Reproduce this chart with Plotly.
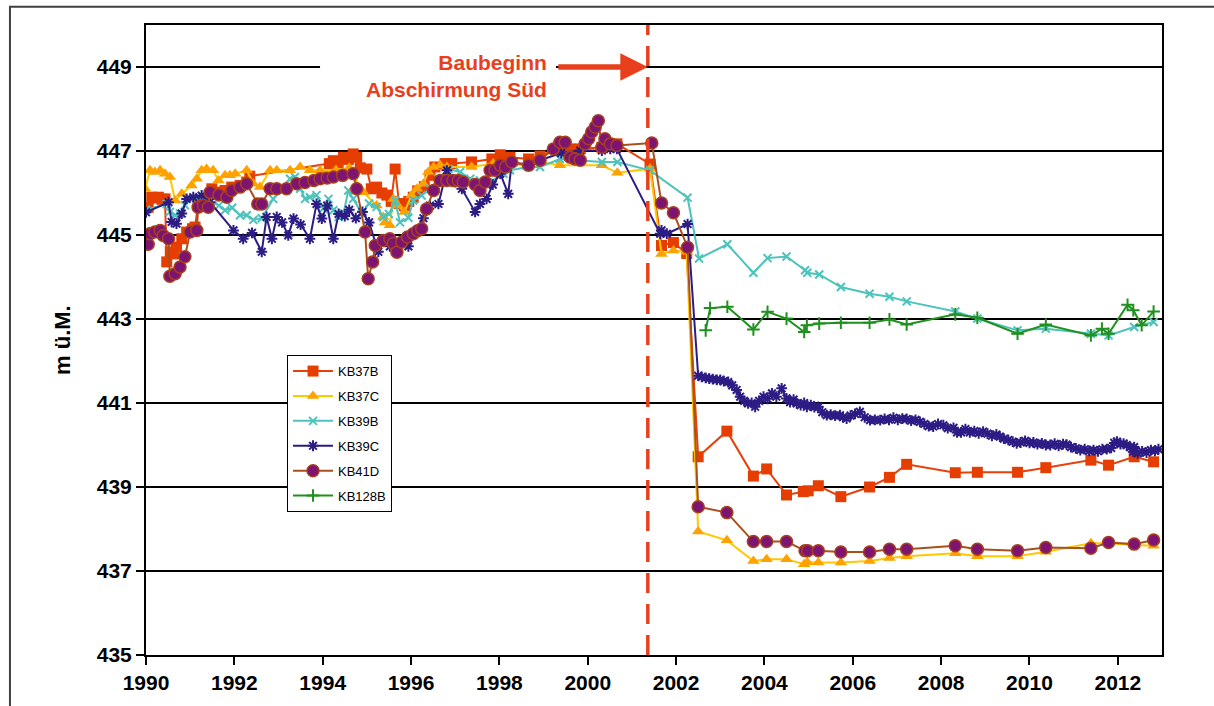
import plotly.graph_objects as go

# --- Messreihen Grundwasserstand (Jahr, m ü.M.) ---
kb37b_x = [1990.05, 1990.13, 1990.20, 1990.28, 1990.36, 1990.43, 1990.47, 1990.55, 1990.62, 1990.69,
           1990.81, 1990.92, 1991.05, 1991.11, 1991.18, 1991.28, 1991.37, 1991.49, 1991.64, 1991.79,
           1991.94, 1992.13, 1992.28, 1992.35, 1994.15, 1994.24, 1994.35, 1994.47, 1994.58, 1994.69,
           1994.77, 1994.85, 1995.00, 1995.10, 1995.22, 1995.34, 1995.45, 1995.55, 1995.64, 1995.73,
           1995.85, 1995.95, 1996.05, 1996.15, 1996.30, 1996.43, 1996.54, 1996.77, 1996.92, 1997.37,
           1997.83, 1998.02, 1998.24, 1998.66, 1998.92, 1999.37, 1999.60, 1999.83, 2000.32, 2000.51,
           2000.66, 2001.41, 2001.67, 2001.94, 2002.24, 2002.50, 2003.15, 2003.75, 2004.05, 2004.50,
           2004.88, 2004.99, 2005.22, 2005.73, 2006.38, 2006.83, 2007.22, 2008.32, 2008.82, 2009.73,
           2010.37, 2011.39, 2011.79, 2012.37, 2012.81]
kb37b_y = [445.66, 445.90, 445.88, 445.90, 445.85, 445.86, 444.36, 444.60, 444.55, 444.71,
           444.91, 445.07, 445.15, 445.19, 445.74, 445.80, 445.86, 446.10, 446.02, 446.06,
           446.14, 446.18, 446.26, 446.40, 446.70, 446.77, 446.72, 446.85, 446.80, 446.93,
           446.85, 446.60, 446.57, 446.10, 446.14, 446.00, 445.95, 445.80, 446.57, 445.75,
           445.70, 445.80, 445.90, 446.05, 446.15, 446.42, 446.62, 446.70, 446.70, 446.74,
           446.81, 446.91, 446.85, 446.81, 446.88, 447.09, 447.05, 447.05, 447.09, 447.17,
           447.17, 446.69, 444.75, 444.82, 444.56, 439.72, 440.33, 439.26, 439.43, 438.81,
           438.89, 438.91, 439.03, 438.77, 439.00, 439.23, 439.54, 439.34, 439.35, 439.35,
           439.46, 439.64, 439.52, 439.72, 439.60]

kb37c_x = [1989.98, 1990.09, 1990.20, 1990.32, 1990.43, 1990.54, 1990.66, 1990.81, 1991.03, 1991.15,
           1991.26, 1991.37, 1991.52, 1991.64, 1991.79, 1991.90, 1992.02, 1992.28, 1992.43, 1992.58,
           1992.81, 1992.96, 1993.26, 1993.49, 1993.71, 1993.94, 1994.30, 1994.60, 1994.92, 1995.22,
           1995.37, 1995.41, 1995.52, 1995.60, 1995.70, 1995.85, 1996.01, 1996.13, 1996.28, 1996.39,
           1996.51, 1996.66, 1996.81, 1997.37, 1997.86, 1998.28, 1998.66, 1998.92, 1999.37, 2000.32,
           2000.67, 2001.41, 2001.67, 2001.94, 2002.24, 2002.50, 2003.15, 2003.75, 2004.05, 2004.50,
           2004.90, 2004.97, 2005.22, 2005.73, 2006.38, 2006.83, 2007.22, 2008.32, 2008.82, 2009.73,
           2010.37, 2011.39, 2011.79, 2012.37, 2012.81]
kb37c_y = [446.10, 446.54, 446.50, 446.54, 446.46, 446.38, 445.82, 445.98, 446.18, 446.34,
           446.54, 446.57, 446.54, 446.30, 446.42, 446.42, 446.46, 446.54, 446.22, 446.14,
           446.54, 446.54, 446.54, 446.62, 446.54, 446.54, 446.55, 446.60, 446.02, 445.70,
           445.43, 445.30, 445.23, 445.86, 445.70, 445.55, 445.94, 446.10, 446.22, 446.50,
           446.62, 446.66, 446.62, 446.62, 446.70, 446.70, 446.62, 446.74, 446.66, 446.66,
           446.48, 446.58, 444.55, 444.63, 444.60, 437.94, 437.73, 437.24, 437.28, 437.28,
           437.16, 437.21, 437.20, 437.20, 437.24, 437.31, 437.35, 437.42, 437.35, 437.35,
           437.46, 437.66, 437.66, 437.62, 437.60]

kb39b_x = [1990.00, 1990.47, 1990.54, 1990.66, 1990.77, 1990.88, 1991.00, 1991.20, 1991.45, 1991.65,
           1991.79, 1991.95, 1992.13, 1992.28, 1992.43, 1992.62, 1992.88, 1993.07, 1993.26, 1993.37,
           1993.49, 1993.60, 1993.71, 1993.86, 1994.01, 1994.13, 1994.24, 1994.36, 1994.47, 1994.58,
           1994.69, 1994.89, 1995.05, 1995.22, 1995.37, 1995.50, 1995.64, 1995.75, 1995.94, 1996.05,
           1996.24, 1996.43, 1996.62, 1996.85, 1997.11, 1997.34, 1997.56, 1997.75, 1998.09, 1998.24,
           1998.66, 1998.92, 1999.37, 2000.32, 2000.67, 2001.41, 2002.26, 2002.52, 2003.16, 2003.75,
           2004.07, 2004.50, 2004.92, 2004.97, 2005.24, 2005.73, 2006.38, 2006.83, 2007.22, 2008.32,
           2008.82, 2009.73, 2010.37, 2011.39, 2011.79, 2012.37, 2012.81]
kb39b_y = [445.60, 445.74, 445.55, 445.47, 445.51, 445.71, 445.86, 445.90, 445.80, 445.70,
           445.59, 445.65, 445.47, 445.47, 445.36, 445.40, 445.86, 446.10, 446.34, 446.38,
           446.10, 445.86, 445.90, 445.95, 445.63, 445.86, 445.59, 445.43, 445.51, 446.06,
           445.86, 445.51, 445.75, 445.67, 445.43, 445.50, 445.82, 445.30, 445.41, 445.82,
           445.94, 446.10, 446.34, 446.57, 446.50, 446.34, 446.30, 446.25, 446.46, 446.54,
           446.62, 446.62, 446.81, 446.74, 446.74, 446.54, 445.89, 444.44, 444.78, 444.10,
           444.45, 444.49, 444.16, 444.10, 444.06, 443.76, 443.60, 443.53, 443.42, 443.18,
           443.01, 442.73, 442.77, 442.65, 442.61, 442.81, 442.93]

kb39c_x = [1990.00, 1990.51, 1990.58, 1990.69, 1990.81, 1990.92, 1991.07, 1991.26, 1991.45, 1991.98,
           1992.20, 1992.40, 1992.62, 1992.73, 1992.85, 1992.96, 1993.08, 1993.22, 1993.34, 1993.50,
           1993.71, 1993.86, 1993.98, 1994.10, 1994.24, 1994.36, 1994.50, 1994.60, 1994.75, 1994.90,
           1995.05, 1995.26, 1995.40, 1995.52, 1995.68, 1995.80, 1995.94, 1996.13, 1996.28, 1996.43,
           1996.62, 1996.81, 1997.00, 1997.15, 1997.45, 1997.56, 1997.71, 1997.85, 1998.02, 1998.20,
           1998.28, 1998.66, 1998.92, 1999.40, 1999.83, 2000.32, 2000.51, 2000.66, 2001.64, 2001.67,
           2001.79, 2002.26,
           2002.50, 2002.58, 2002.67, 2002.75, 2002.83, 2002.92, 2003.00, 2003.08, 2003.18, 2003.27,
           2003.37, 2003.45, 2003.54, 2003.63, 2003.71, 2003.79, 2003.88, 2003.98, 2004.07, 2004.17,
           2004.27, 2004.39, 2004.50, 2004.58, 2004.66, 2004.73, 2004.82, 2004.90, 2004.96, 2005.05,
           2005.13, 2005.22, 2005.31, 2005.41, 2005.50, 2005.60, 2005.71, 2005.78, 2005.86, 2005.95,
           2006.05, 2006.16, 2006.27, 2006.39, 2006.50, 2006.62, 2006.72, 2006.82, 2006.92, 2007.02,
           2007.12, 2007.22, 2007.32, 2007.42, 2007.52, 2007.62, 2007.72, 2007.82, 2007.93, 2008.05,
           2008.15, 2008.28, 2008.36, 2008.45, 2008.55, 2008.65, 2008.75, 2008.85, 2008.95, 2009.05,
           2009.15, 2009.25, 2009.33, 2009.42, 2009.52, 2009.62, 2009.71, 2009.80, 2009.90, 2010.00,
           2010.09, 2010.18, 2010.28, 2010.37, 2010.47, 2010.57, 2010.66, 2010.76, 2010.84, 2010.94,
           2011.05, 2011.15, 2011.25, 2011.35, 2011.45, 2011.55, 2011.65, 2011.75, 2011.85, 2011.92,
           2011.98, 2012.06, 2012.13, 2012.20, 2012.28, 2012.35, 2012.37, 2012.45, 2012.55, 2012.65,
           2012.75, 2012.84, 2012.92]
kb39c_y = [445.54, 445.78, 445.31, 445.27, 445.51, 445.86, 445.90, 445.94, 445.78, 445.11,
           444.91, 445.05, 444.60, 445.43, 444.91, 445.43, 445.30, 444.99, 445.39, 445.25,
           444.91, 445.74, 445.39, 445.70, 444.91, 445.50, 445.45, 445.60, 445.40, 445.55,
           445.30, 444.60, 444.85, 444.73, 444.58, 444.85, 444.73, 445.11, 445.40, 445.70,
           445.74, 446.54, 446.26, 446.10, 445.55, 445.74, 445.86, 446.20, 446.46, 445.98,
           446.74, 446.66, 446.78, 446.95, 447.01, 447.01, 447.05, 447.05, 445.03, 445.11,
           445.03, 445.26,
           441.65, 441.62, 441.60, 441.58, 441.57, 441.55, 441.55, 441.52, 441.50, 441.42,
           441.31, 441.15, 441.05, 440.99, 441.00, 440.91, 441.05, 441.15, 441.10, 441.23,
           441.15, 441.35, 441.11, 441.02, 441.08, 440.99, 440.95, 441.00, 440.91, 440.95,
           440.90, 440.91, 440.78, 440.71, 440.72, 440.70, 440.71, 440.66, 440.63, 440.70,
           440.74, 440.79, 440.66, 440.59, 440.60, 440.59, 440.62, 440.60, 440.65, 440.60,
           440.63, 440.62, 440.58, 440.60, 440.55, 440.50, 440.45, 440.44, 440.50, 440.47,
           440.40, 440.41, 440.30, 440.30, 440.38, 440.30, 440.33, 440.28, 440.32, 440.27,
           440.22, 440.25, 440.20, 440.15, 440.12, 440.08, 440.04, 440.06, 440.10, 440.05,
           440.06, 440.02, 440.04, 440.00, 440.00, 440.03, 439.98, 440.02, 440.01, 439.95,
           439.92, 439.88, 439.90, 439.86, 439.88, 439.85, 439.90, 439.90, 439.93, 440.05,
           440.08, 440.02, 440.03, 440.00, 439.95, 439.84, 439.95, 439.80, 439.85, 439.82,
           439.88, 439.86, 439.90]

kb41d_x = [1990.05, 1990.09, 1990.20, 1990.32, 1990.39, 1990.51, 1990.54, 1990.66, 1990.77, 1990.88,
           1991.00, 1991.15, 1991.18, 1991.30, 1991.41, 1991.45, 1991.65, 1991.83, 1991.94, 1992.13,
           1992.28, 1992.53, 1992.62, 1992.81, 1992.96, 1993.18, 1993.41, 1993.60, 1993.80, 1993.94,
           1994.10, 1994.24, 1994.45, 1994.69, 1994.77, 1994.96, 1995.03, 1995.13, 1995.19, 1995.37,
           1995.52, 1995.60, 1995.68, 1995.79, 1995.92, 1996.05, 1996.15, 1996.24, 1996.35, 1996.51,
           1996.66, 1996.81, 1996.95, 1997.07, 1997.18, 1997.45, 1997.56, 1997.68, 1997.79, 1997.90,
           1998.02, 1998.14, 1998.28, 1998.66, 1998.92, 1999.22, 1999.37, 1999.49, 1999.60, 1999.71,
           1999.83, 1999.94, 2000.02, 2000.09, 2000.17, 2000.24, 2000.32, 2000.39, 2000.51, 2000.66,
           2001.45, 2001.67, 2001.94, 2002.26, 2002.50, 2003.15, 2003.75, 2004.05, 2004.50, 2004.92,
           2004.98, 2005.22, 2005.73, 2006.38, 2006.83, 2007.22, 2008.32, 2008.82, 2009.73, 2010.37,
           2011.39, 2011.79, 2012.37, 2012.81]
kb41d_y = [444.78, 445.03, 445.07, 445.11, 444.99, 444.91, 444.02, 444.08, 444.24, 444.48,
           445.07, 445.11, 445.66, 445.70, 445.66, 446.02, 445.95, 445.90, 446.06, 446.14,
           446.22, 445.74, 445.74, 446.10, 446.10, 446.10, 446.22, 446.25, 446.30, 446.34,
           446.36, 446.38, 446.42, 446.46, 446.10, 445.07, 443.96, 444.36, 444.75, 444.87,
           444.91, 444.80, 444.59, 444.83, 444.95, 445.03, 445.10, 445.15, 445.62, 446.06,
           446.30, 446.30, 446.30, 446.30, 446.26, 446.20, 446.06, 446.26, 446.54, 446.54,
           446.66, 446.62, 446.74, 446.66, 446.78, 447.05, 447.21, 447.21, 446.85, 446.81,
           446.78, 447.17, 447.29, 447.45, 447.57, 447.72, 447.09, 447.29, 447.17, 447.13,
           447.19, 445.76, 445.53, 444.71, 438.53, 438.39, 437.70, 437.70, 437.70, 437.48,
           437.48, 437.48, 437.45, 437.45, 437.52, 437.52, 437.60, 437.52, 437.48, 437.56,
           437.54, 437.68, 437.64, 437.74]

kb128b_x = [2002.67, 2002.77, 2003.16, 2003.75, 2004.07, 2004.50, 2004.90, 2004.96, 2005.24, 2005.73,
            2006.38, 2006.83, 2007.22, 2008.32, 2008.82, 2009.73, 2010.37, 2011.39, 2011.64, 2011.79,
            2012.22, 2012.35, 2012.54, 2012.81]
kb128b_y = [442.73, 443.26, 443.29, 442.75, 443.17, 443.01, 442.69, 442.85, 442.89, 442.91,
            442.91, 442.99, 442.87, 443.11, 443.03, 442.65, 442.87, 442.61, 442.77, 442.65,
            443.34, 443.21, 442.85, 443.18]

# Achsen
x_ticks = [1990, 1992, 1994, 1996, 1998, 2000, 2002, 2004, 2006, 2008, 2010, 2012]
y_ticks = [435, 437, 439, 441, 443, 445, 447, 449]
baubeginn_year = 2001.36

FONT = "Liberation Sans"
RED = "#E8401C"

fig = go.Figure()

fig.add_trace(go.Scatter(
    x=kb37b_x, y=kb37b_y, name="KB37B", legendgroup="a", mode="lines+markers",
    line=dict(color="#E8400A", width=2),
    marker=dict(symbol="square", size=11, color="#E63E00")))
fig.add_trace(go.Scatter(
    x=kb37c_x, y=kb37c_y, name="KB37C", legendgroup="b", mode="lines+markers",
    line=dict(color="#FFC800", width=2),
    marker=dict(symbol="triangle-up", size=11, color="#FFA200")))
fig.add_trace(go.Scatter(
    x=kb39b_x, y=kb39b_y, name="KB39B", legendgroup="c", mode="lines+markers",
    line=dict(color="#4CC3BC", width=2),
    marker=dict(symbol="x-thin-open", size=8, line=dict(color="#2FB3AE", width=2))))
fig.add_trace(go.Scatter(
    x=kb39c_x, y=kb39c_y, name="KB39C", legendgroup="d", mode="lines+markers",
    line=dict(color="#2C1C84", width=2),
    marker=dict(symbol="asterisk-open", size=9, line=dict(color="#4A3A9A", width=2))))
fig.add_trace(go.Scatter(
    x=kb41d_x, y=kb41d_y, name="KB41D", legendgroup="e", mode="lines+markers",
    line=dict(color="#A8501C", width=2),
    marker=dict(symbol="circle", size=12, color="#7E1472", line=dict(color="#A8401C", width=1.5))))
fig.add_trace(go.Scatter(
    x=kb128b_x, y=kb128b_y, name="KB128B", legendgroup="f", mode="lines+markers",
    line=dict(color="#20901E", width=2),
    marker=dict(symbol="cross-thin-open", size=9, line=dict(color="#2A9A3A", width=2))))

# weisses Textfeld hinter der Beschriftung (deckt die Gitterlinie ab)
fig.add_shape(type="rect", xref="paper", yref="paper", x0=0.1713, x1=0.4035, y0=0.881, y1=0.953,
              fillcolor="white", line=dict(width=0), layer="above")

# Beginn der Bauarbeiten
fig.add_shape(type="line", xref="x", yref="paper", x0=baubeginn_year, x1=baubeginn_year,
              y0=0, y1=1, line=dict(color=RED, width=3.5, dash="20px,11px"), layer="above")

fig.add_annotation(xref="paper", yref="paper", x=0.3967, y=0.9185, xanchor="right", yanchor="middle",
                   align="right", showarrow=False, text="Baubeginn<br>Abschirmung Süd",
                   font=dict(family=FONT, size=21, color=RED, weight="bold"))
fig.add_annotation(x=baubeginn_year, y=449, ax=1999.30, ay=449, axref="x", ayref="y",
                   xref="x", yref="y", text="", showarrow=True, arrowhead=2, arrowsize=1,
                   arrowwidth=5.5, arrowcolor=RED, standoff=0, startstandoff=0)

# Achsentitel
fig.add_annotation(xref="paper", yref="paper", x=-0.0827, y=0.5, xanchor="center", yanchor="middle",
                   text="m ü.M.", textangle=-90, showarrow=False,
                   font=dict(family=FONT, size=22, color="black", weight="bold"))

# Rahmen um die Grafik
fig.add_shape(type="rect", xref="paper", yref="paper", x0=-0.1339, x1=1.09, y0=-0.12, y1=1.029,
              line=dict(color="#404040", width=2), fillcolor="rgba(0,0,0,0)", layer="above")

fig.update_xaxes(range=[1990, 2013], tickvals=x_ticks, ticks="outside", ticklen=8, tickwidth=1.5,
                 tickcolor="black", showline=True, linecolor="black", linewidth=2, mirror=True,
                 showgrid=False, zeroline=False,
                 tickfont=dict(family=FONT, size=21, color="black", weight="bold"))
fig.update_yaxes(range=[435, 450], tickvals=y_ticks, ticks="outside", ticklen=8, tickwidth=1.5,
                 tickcolor="black", showline=True, linecolor="black", linewidth=2, mirror=True,
                 showgrid=True, gridcolor="black", gridwidth=1.5, zeroline=False,
                 tickfont=dict(family=FONT, size=21, color="black", weight="bold"))

fig.update_layout(
    width=1214, height=706,
    margin=dict(l=146, r=52, t=25, b=49),
    paper_bgcolor="white", plot_bgcolor="white",
    showlegend=True,
    legend=dict(x=0.1388, y=0.476, xanchor="left", yanchor="top",
                bgcolor="white", bordercolor="black", borderwidth=1,
                font=dict(family=FONT, size=13, color="black"),
                tracegroupgap=5, itemwidth=40),
)

fig.write_html("out.html")
